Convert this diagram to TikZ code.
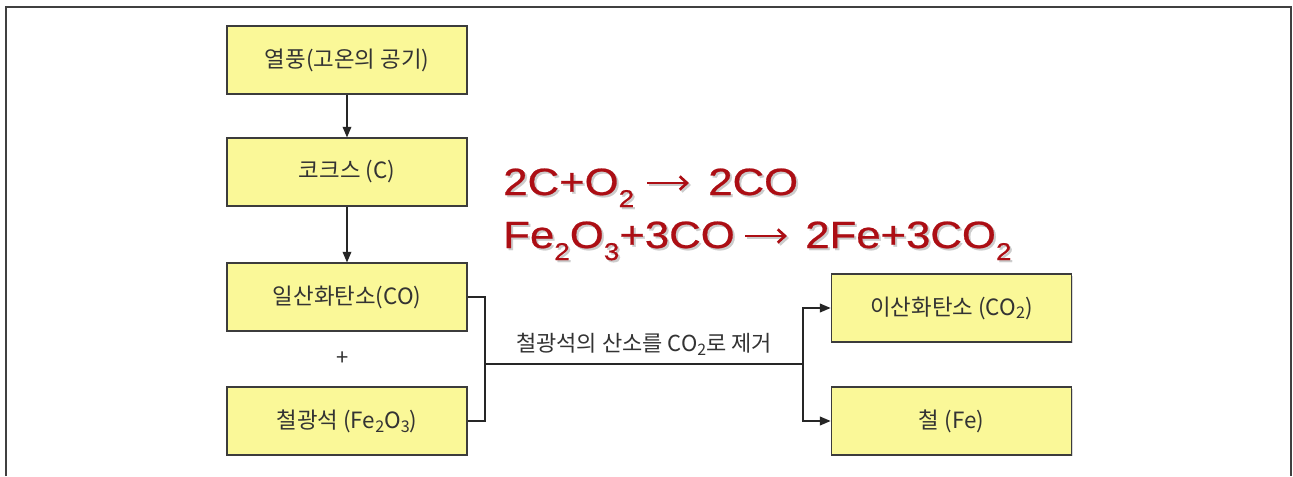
\documentclass[tikz,border=0pt]{standalone}
\usepackage{fontspec}
\setmainfont{Noto Sans CJK KR}
\newfontfamily\eqfont[FakeBold=0.6]{Liberation Sans}
\usetikzlibrary{arrows.meta,shadows}
\definecolor{boxfill}{RGB}{250,248,152}
\definecolor{boxline}{RGB}{60,60,60}
\definecolor{eqred}{RGB}{172,14,20}
\newcommand{\lowsub}[1]{\raisebox{-0.32ex}{\scalebox{0.72}{#1}}}
\newcommand{\eqsub}[1]{\raisebox{-0.6ex}{\scalebox{0.64}{#1}}}
\newcommand{\eqs}[1]{\scalebox{1.15}[1]{#1}}
\tikzset{
  flowbox/.style={draw=boxline, line width=1.3pt, fill=boxfill,
    minimum width=180pt, minimum height=50.5pt, inner sep=0pt,
    font=\fontsize{16.8pt}{18pt}\selectfont, text=black!80,
    drop shadow={shadow xshift=1pt, shadow yshift=-1pt, fill=black!30}},
  conn/.style={line width=1.1pt, draw=black!85},
  arr/.style={conn, -{Triangle[length=8pt,width=6.5pt]}},
  eqtext/.style={anchor=base west, inner sep=0pt,
    font=\eqfont\fontsize{28.5pt}{30pt}\selectfont},
  eqarrow/.style={line width=2pt, -{Straight Barb[length=5.5pt,width=10pt,line width=2pt]}},
  lbl/.style={font=\fontsize{16.5pt}{18pt}\selectfont, text=black!80, inner sep=0pt}
}
\begin{document}
\begin{tikzpicture}[x=0.75pt,y=-0.75pt]
\useasboundingbox (0,0) rectangle (1293,476);
\fill[white] (0,0) rectangle (1293,476);
\draw[line width=1.2pt, draw=black!75] (6,476) -- (6,7) -- (1291,7) -- (1291,476);

\node[flowbox] (b1) at (347,60) {열풍(고온의 공기)};
\node[flowbox] (b2) at (347,172) {코크스 (C)};
\node[flowbox] (b3) at (347,297) {일산화탄소(CO)};
\node[flowbox] (b4) at (347,421) {철광석 (Fe\lowsub{2}O\lowsub{3})};
\node[flowbox] (b5) at (951.5,308) {이산화탄소 (CO\lowsub{2})};
\node[flowbox] (b6) at (951.5,421) {철 (Fe)};
\node[lbl] (plus) at (343,359) {+};

\draw[arr] (b1) -- (b2);
\draw[arr] (b2) -- (b3);

\coordinate (j1) at (485,364);
\coordinate (j2) at (803,364);
\draw[conn] (b3.east) -| (j1);
\draw[conn] (b4.east) -| (j1);
\draw[conn] (j1) -- node[lbl, above=6pt] (lab) {철광석의 산소를 CO\lowsub{2}로 제거} (j2);
\draw[arr] (j2) |- (b5.west);
\draw[arr] (j2) |- (b6.west);

% equation shadows
\begin{scope}[shift={(2,2)}, every node/.append style={text=black!20}]
\node[eqtext] (s1a) at (503,195) {\eqs{2C+O\eqsub{2}}};
\node[eqtext] (s1b) at (708,195) {\eqs{2CO}};
\node[eqtext] (s2a) at (503,248) {\eqs{Fe\eqsub{2}O\eqsub{3}+3CO}};
\node[eqtext] (s2b) at (805,248) {\eqs{2Fe+3CO\eqsub{2}}};
\coordinate (sa1) at (647,183); \coordinate (sa2) at (689,183);
\coordinate (sa3) at (745,236); \coordinate (sa4) at (787,236);
\draw[eqarrow, draw=black!20] (sa1) -- (sa2);
\draw[eqarrow, draw=black!20] (sa3) -- (sa4);
\end{scope}
% equations
\node[eqtext, text=eqred] (e1a) at (503,195) {\eqs{2C+O\eqsub{2}}};
\node[eqtext, text=eqred] (e1b) at (708,195) {\eqs{2CO}};
\node[eqtext, text=eqred] (e2a) at (503,248) {\eqs{Fe\eqsub{2}O\eqsub{3}+3CO}};
\node[eqtext, text=eqred] (e2b) at (805,248) {\eqs{2Fe+3CO\eqsub{2}}};
\coordinate (a1) at (647,183); \coordinate (a2) at (689,183);
\coordinate (a3) at (745,236); \coordinate (a4) at (787,236);
\draw[eqarrow, draw=eqred] (a1) -- (a2);
\draw[eqarrow, draw=eqred] (a3) -- (a4);
\end{tikzpicture}
\end{document}
